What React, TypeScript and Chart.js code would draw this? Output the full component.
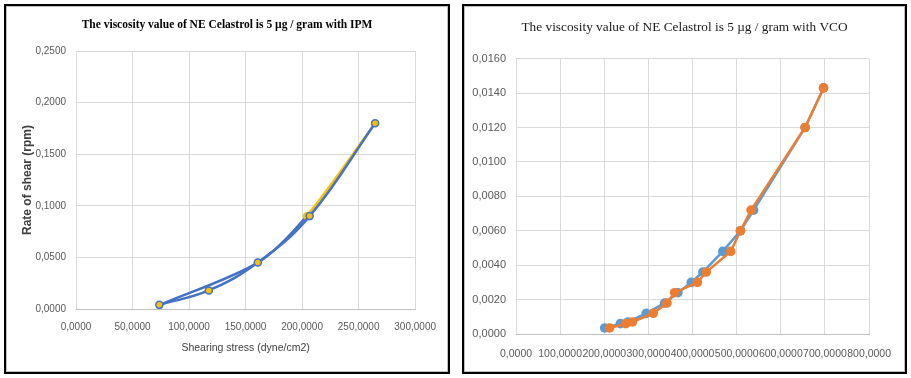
import React, { useEffect, useRef } from "react";
import { Chart, registerables } from "chart.js";

Chart.register(...registerables);

// ---------- Left chart (IPM) ----------
const ipmTitle = "The viscosity value of NE Celastrol is 5 µg / gram with IPM";
const ipmXTitle = "Shearing stress (dyne/cm2)";
const ipmYTitle = "Rate of shear (rpm)";
const ipmStressA = [73.7, 117.5, 160.8, 206.7, 264.6];
const ipmShearA = [0.004, 0.018, 0.045, 0.09, 0.18];
const ipmStressB = [74.0, 160.8, 204.0, 264.6];
const ipmShearB = [0.004, 0.045, 0.09, 0.18];
const ipmXTicks = [0, 50, 100, 150, 200, 250, 300];
const ipmYTicks = [0, 0.05, 0.1, 0.15, 0.2, 0.25];

// ---------- Right chart (VCO) ----------
const vcoTitle = "The viscosity value of NE Celastrol is 5 µg / gram with VCO";
const vcoBlueX = [201.0, 236.5, 253.8, 295.0, 336.7, 366.8, 397.0, 423.3, 468.5, 508.5, 538.5, 655.0, 696.8];
const vcoBlueY = [0.00035, 0.0006, 0.0007, 0.0012, 0.0018, 0.0024, 0.003, 0.0036, 0.0048, 0.006, 0.0072, 0.012, 0.0143];
const vcoOrangeX = [212.0, 248.6, 263.7, 311.0, 342.0, 359.3, 411.0, 431.0, 486.5, 508.5, 532.6, 655.0, 696.8];
const vcoOrangeY = [0.00035, 0.0006, 0.0007, 0.0012, 0.0018, 0.0024, 0.003, 0.0036, 0.0048, 0.006, 0.0072, 0.012, 0.0143];
const vcoXTicks = [0, 100, 200, 300, 400, 500, 600, 700, 800];
const vcoYTicks = [0, 0.002, 0.004, 0.006, 0.008, 0.01, 0.012, 0.014, 0.016];

const SANS = "'Liberation Sans', Arial, sans-serif";
const SERIF = "'Liberation Serif', 'Times New Roman', serif";
const GRID = "#d9d9d9";
const TICK = "#595959";

const fmt = (v: number) => Number(v).toFixed(4).replace(".", ",");
const pts = (xs: number[], ys: number[]) => xs.map((x, i) => ({ x, y: ys[i] }));

function spacer(width: number) {
  return {
    type: "linear",
    position: "right",
    display: true,
    grid: { display: false },
    border: { display: false },
    ticks: { display: false },
    afterFit: (s: any) => {
      s.width = width;
    },
  };
}

function ipmConfig(): any {
  const blue = "#4472C4";
  const yellow = "#FFC000";
  return {
    type: "scatter",
    data: {
      datasets: [
        {
          data: pts(ipmStressA, ipmShearA),
          showLine: true,
          tension: 0.4,
          borderColor: blue,
          borderWidth: 2.5,
          pointRadius: 3.5,
          pointBackgroundColor: yellow,
          pointBorderColor: blue,
          pointBorderWidth: 1.5,
          order: 0,
        },
        {
          data: pts(ipmStressB, ipmShearB),
          showLine: true,
          tension: 0.3,
          borderColor: blue,
          borderWidth: 2.5,
          segment: {
            borderColor: (c: any) => (c.p0DataIndex === 2 ? yellow : blue),
          },
          pointRadius: 3.5,
          pointBackgroundColor: yellow,
          pointBorderColor: yellow,
          pointBorderWidth: 1,
          order: 1,
        },
      ],
    },
    options: {
      responsive: false,
      animation: false,
      devicePixelRatio: 1,
      layout: { padding: 0 },
      plugins: {
        legend: { display: false },
        tooltip: { enabled: false },
        title: {
          display: true,
          text: ipmTitle,
          color: "#000",
          font: { family: SERIF, size: 11.5, weight: "bold" },
          padding: { top: 11.8, bottom: 19.4 },
        },
      },
      scales: {
        x: {
          type: "linear",
          min: 0,
          max: 300,
          afterBuildTicks: (s: any) => {
            s.ticks = ipmXTicks.map((v) => ({ value: v }));
          },
          afterFit: (s: any) => {
            s.height = 63;
          },
          grid: { color: GRID, drawTicks: false },
          border: { color: "#bfbfbf" },
          ticks: {
            autoSkip: false,
            maxRotation: 0,
            padding: 12,
            color: TICK,
            font: { family: SANS, size: 10 },
            callback: (v: any) => fmt(v),
          },
          title: {
            display: true,
            text: ipmXTitle,
            color: "#404040",
            font: { family: SANS, size: 10.5 },
            padding: { top: 0, bottom: 17.7 },
          },
        },
        y: {
          type: "linear",
          min: 0,
          max: 0.25,
          afterBuildTicks: (s: any) => {
            s.ticks = ipmYTicks.map((v) => ({ value: v }));
          },
          afterFit: (s: any) => {
            s.width = 70;
          },
          grid: { color: GRID, drawTicks: false },
          border: { display: false },
          ticks: {
            padding: 10,
            color: TICK,
            font: { family: SANS, size: 10 },
            callback: (v: any) => fmt(v),
          },
          title: {
            display: true,
            text: ipmYTitle,
            color: "#404040",
            font: { family: SANS, size: 12, weight: "bold" },
            padding: { top: 14.8, bottom: 0 },
          },
        },
        yR: spacer(30),
      },
    },
  };
}

function vcoConfig(): any {
  const blue = "#5B9BD5";
  const orange = "#ED7D31";
  return {
    type: "scatter",
    data: {
      datasets: [
        {
          data: pts(vcoOrangeX, vcoOrangeY),
          showLine: true,
          tension: 0,
          borderColor: orange,
          borderWidth: 2.5,
          pointRadius: 4.8,
          pointBackgroundColor: orange,
          pointBorderColor: orange,
          pointBorderWidth: 0,
          order: 0,
        },
        {
          data: pts(vcoBlueX, vcoBlueY),
          showLine: true,
          tension: 0,
          borderColor: blue,
          borderWidth: 2.5,
          pointRadius: 4.8,
          pointBackgroundColor: blue,
          pointBorderColor: blue,
          pointBorderWidth: 0,
          order: 1,
        },
      ],
    },
    options: {
      responsive: false,
      animation: false,
      devicePixelRatio: 1,
      layout: { padding: 0 },
      plugins: {
        legend: { display: false },
        tooltip: { enabled: false },
        title: {
          display: true,
          text: vcoTitle,
          color: "#1a1a1a",
          font: { family: SERIF, size: 13.3, weight: "normal" },
          padding: { top: 13.5, bottom: 23.2 },
        },
      },
      scales: {
        x: {
          type: "linear",
          min: 0,
          max: 800,
          afterBuildTicks: (s: any) => {
            s.ticks = vcoXTicks.map((v) => ({ value: v }));
          },
          afterFit: (s: any) => {
            s.height = 38;
          },
          grid: { color: GRID, drawTicks: false },
          border: { color: "#bfbfbf" },
          ticks: {
            autoSkip: false,
            maxRotation: 0,
            padding: 14,
            color: TICK,
            font: { family: SANS, size: 10.5 },
            callback: (v: any) => fmt(v),
          },
        },
        y: {
          type: "linear",
          min: 0,
          max: 0.016,
          afterBuildTicks: (s: any) => {
            s.ticks = vcoYTicks.map((v) => ({ value: v }));
          },
          afterFit: (s: any) => {
            s.width = 52;
          },
          grid: { color: GRID, drawTicks: false },
          border: { display: false },
          ticks: {
            padding: 10,
            color: TICK,
            font: { family: SANS, size: 11 },
            callback: (v: any) => fmt(v),
          },
        },
        yR: spacer(35),
      },
    },
  };
}

function Panel(props: { left: number; width: number; config: () => any }) {
  const ref = useRef<HTMLCanvasElement | null>(null);
  const innerW = props.width - 4;
  const innerH = 366;
  useEffect(() => {
    if (!ref.current) return;
    const chart = new Chart(ref.current, props.config());
    return () => chart.destroy();
  }, []);
  return (
    <div
      style={{
        position: "absolute",
        left: props.left,
        top: 4,
        width: props.width,
        height: 370,
        boxSizing: "border-box",
        border: "2px solid #000",
        boxShadow: "inset 1px 1px 0 #bdbdbd, inset -1px -1px 0 #bdbdbd",
        background: "#fff",
      }}
    >
      <canvas
        ref={ref}
        width={innerW}
        height={innerH}
        style={{ display: "block", width: innerW, height: innerH }}
      />
    </div>
  );
}

export default function App() {
  return (
    <div
      style={{
        position: "absolute",
        left: 0,
        top: 0,
        width: 911,
        height: 378,
        background: "#fff",
        overflow: "hidden",
      }}
    >
      <Panel left={4} width={446} config={ipmConfig} />
      <Panel left={462} width={445} config={vcoConfig} />
    </div>
  );
}
